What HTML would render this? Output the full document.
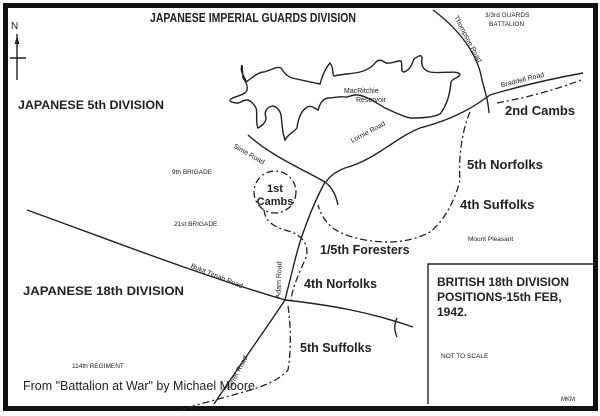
<!DOCTYPE html>
<html><head><meta charset="utf-8"><style>
html,body{margin:0;padding:0;background:#fff;width:600px;height:416px;overflow:hidden}
svg{display:block}
text{font-family:"Liberation Sans",sans-serif;fill:#222}
.b{font-weight:bold}
</style></head><body>
<svg width="600" height="416" viewBox="0 0 600 416">
<rect x="0" y="0" width="600" height="416" fill="#fff"/>
<rect x="5.5" y="5.5" width="590" height="403" fill="none" stroke="#111" stroke-width="5"/>
<g fill="none" stroke="#222" stroke-width="1.4">
<path d="M428,404 V264 H594"/>
<path d="M17,34 V80 M10,58 H26"/>
<path d="M242,65 C239,72 246,78 246,82 C252,78 258,72 264,72 C272,70 276,66 281,68 C284,72 286,76 292,78 L320,84 C322,78 324,70 330,63 C334,68 332,74 334,76 C342,74 352,74 360,72 C368,70 373,66 376,62 C380,58 384,62 386,63 C392,64 398,60 401,61 C403,66 400,72 404,72 C410,70 412,64 414,59 C418,56 422,54 422,58 C421,64 422,70 430,72 C440,74 456,70 460,74 C460,78 452,78 451,82 C450,92 448,104 440,114 C432,118 418,118 410,118 C402,116 394,112 385,108 C375,102 366,96 358,95 C352,94 348,98 345,97 C340,96 334,98 328,98 C322,99 320,104 318,110 C314,108 310,104 306,108 C300,112 298,120 297,128 C294,132 288,134 285,140 C282,132 282,122 281,115 C280,110 276,106 272,106 C266,108 264,112 266,118 C266,122 262,126 258,128 C255,122 258,114 256,108 C254,104 250,100 247,100 C242,100 240,104 236,103 C232,102 228,102 231,99 C235,96 242,96 246,92 C249,88 246,82 243,78 Z"/>
<path d="M433,10 C460,30 478,55 482,80 C486,95 488,100 489,113"/>
<path d="M490,95 C520,86 550,79 583,73"/>
<path d="M490,95 C470,110 450,120 420,128 C395,138 375,160 345,168 C335,172 330,176 326,182"/>
<path d="M248,135 C270,155 300,168 325,182 C333,188 336,196 338,205"/>
<path d="M325,182 C310,210 300,240 295,260 C290,280 287,292 285,300"/>
<path d="M27,210 C110,240 200,275 285,300 C330,305 370,312 413,327"/>
<path d="M397,318 C394,324 394,330 397,337"/>
<path d="M285,300 C265,330 240,365 214,404"/>
</g>
<g fill="none" stroke="#222" stroke-width="1.3" stroke-dasharray="7,3,2,3">
<path d="M497,103 C525,98 555,90 581,80"/>
<path d="M470,112 C462,130 458,160 460,180 C455,200 445,220 430,232 C415,240 395,245 365,240 C340,235 325,228 318,205"/>
<circle cx="275" cy="192" r="21"/>
<path d="M264,210 C265,222 275,228 292,232 C305,238 310,248 305,260 C298,275 292,290 291,300"/>
<path d="M288,306 C290,320 292,345 288,370 C275,385 250,390 215,400 C200,404 190,407 180,410"/>
</g>
<text x="150" y="22" class="b" font-size="13" textLength="206" lengthAdjust="spacingAndGlyphs">JAPANESE IMPERIAL GUARDS DIVISION</text>
<text x="485" y="17" font-size="6.5">3/3rd GUARDS</text>
<text x="489" y="26" font-size="6.5">BATTALION</text>
<text x="11" y="29" font-size="10">N</text>
<path d="M17,36 L14.5,44 H19.5 Z" fill="#222"/>
<text x="18" y="109" class="b" font-size="12" textLength="146" lengthAdjust="spacingAndGlyphs">JAPANESE 5th DIVISION</text>
<text x="344" y="93" font-size="7">MacRitchie</text>
<text x="356" y="102" font-size="7">Reservoir</text>
<text transform="translate(466,40) rotate(62)" font-size="7" text-anchor="middle">Thompson Road</text>
<text transform="translate(523,82) rotate(-14)" font-size="7" text-anchor="middle">Braddell Road</text>
<text x="505" y="115" class="b" font-size="13">2nd Cambs</text>
<text transform="translate(369,134) rotate(-28)" font-size="7" text-anchor="middle">Lornie Road</text>
<text transform="translate(248,156) rotate(30)" font-size="7" text-anchor="middle">Sime Road</text>
<text x="172" y="174" font-size="6.5">9th BRIGADE</text>
<text x="467" y="169" class="b" font-size="13">5th Norfolks</text>
<text x="275" y="192" class="b" font-size="11" text-anchor="middle">1st</text>
<text x="275" y="205" class="b" font-size="11" text-anchor="middle">Cambs</text>
<text x="460" y="209" class="b" font-size="13">4th Suffolks</text>
<text x="174" y="226" font-size="6.5">21st BRIGADE</text>
<text x="468" y="241" font-size="6.5">Mount Pleasant</text>
<text x="320" y="254" class="b" font-size="12.5">1/5th Foresters</text>
<text transform="translate(216,278) rotate(22)" font-size="7" text-anchor="middle">Bukit Timah Road</text>
<text transform="translate(281,280) rotate(-88)" font-size="7" text-anchor="middle">Adam Road</text>
<text x="304" y="288" class="b" font-size="12.5">4th Norfolks</text>
<text x="23" y="295" class="b" font-size="12" textLength="161" lengthAdjust="spacingAndGlyphs">JAPANESE 18th DIVISION</text>
<text x="437" y="286" class="b" font-size="12">BRITISH 18th DIVISION</text>
<text x="437" y="301" class="b" font-size="12">POSITIONS-15th FEB,</text>
<text x="437" y="316" class="b" font-size="12">1942.</text>
<text x="300" y="352" class="b" font-size="12.5">5th Suffolks</text>
<text x="441" y="358" font-size="6.5">NOT TO SCALE</text>
<text x="72" y="368" font-size="6.5">114th REGIMENT</text>
<text transform="translate(239,374) rotate(-62)" font-size="7" text-anchor="middle">Farrer Road</text>
<text x="23" y="390" font-size="13" fill="#111" textLength="232" lengthAdjust="spacingAndGlyphs">From "Battalion at War" by Michael Moore</text>
<text x="561" y="401" font-size="6">MKM</text>
</svg>
</body></html>
